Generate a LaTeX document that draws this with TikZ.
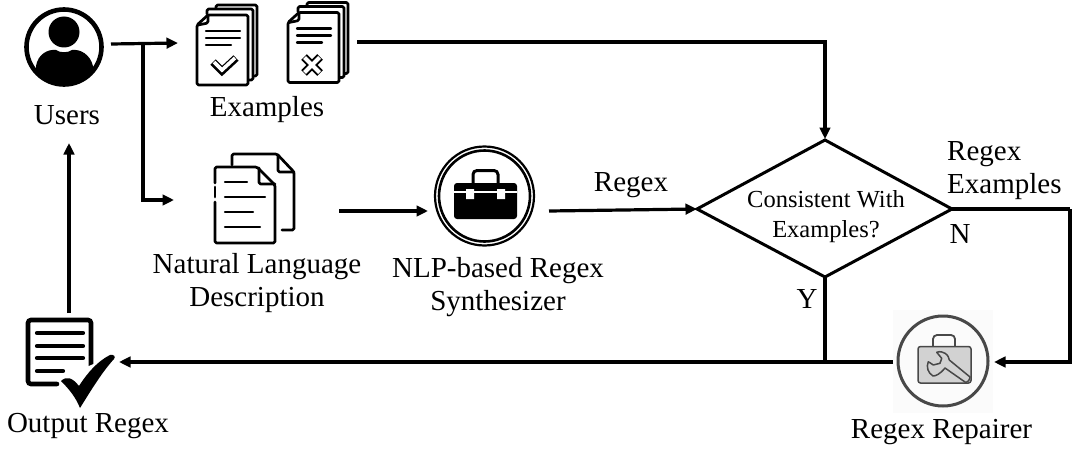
\documentclass[tikz,border=0pt]{standalone}
\usepackage{fontspec}
\setmainfont{Liberation Serif}
\usetikzlibrary{arrows.meta}
\definecolor{repgray}{HTML}{D2D2D2}
\definecolor{repdark}{HTML}{484848}
\tikzset{
  x=1pt,y=-1pt,
  flow/.style={line width=3.2pt,-{Triangle[length=11.5pt,width=10.5pt]},black},
  plainflow/.style={line width=3.2pt,black},
  lbl/.style={font=\fontsize{29}{33}\selectfont,inner sep=0pt,anchor=base},
  smalllbl/.style={font=\fontsize{24.5}{30}\selectfont,inner sep=0pt,anchor=base},
  iconline/.style={line width=2.7pt,line cap=round,line join=round,rounded corners=1.5pt},
  txtline/.style={line width=2.4pt,line cap=round},
}
\newcommand{\stackdoc}{%
  \draw[iconline,fill=white] (216,9) -- (216,5) -- (257,5) -- (257,76) -- (254,76);
  \draw[iconline,fill=white] (207,14) -- (207,9) -- (253,9) -- (253,80) -- (249,80);
  \draw[iconline,fill=white] (197,25) -- (208,15) -- (248,15) -- (248,85) -- (197,85) -- cycle;
  \draw[iconline] (208,15) -- (208,23) -- (198,25);
  \draw[txtline] (206,31) -- (240,31) (206,38) -- (240,38) (206,45) -- (231,45);
}
\begin{document}
\begin{tikzpicture}
\useasboundingbox (0,0) rectangle (1073,452);
% users icon
\draw[line width=4.6pt] (64,47) circle (37.5);
\fill (64,32) circle (15.5);
\begin{scope}
\clip (64,47) circle (37);
\fill (36,88) -- (36,66) .. controls (38,54) and (48,49) .. (56,50) .. controls (60,53) and (68,53) .. (72,50) .. controls (80,49) and (90,54) .. (93,66) -- (93,88) -- cycle;
\end{scope}
\node[lbl] (users) at (67,124) {Users};
% example documents
\stackdoc
\draw[line width=7.5pt,line join=miter] (213,62) -- (222,71) -- (236,58);
\draw[line width=3.6pt,white,line join=miter] (214,62) -- (222,70) -- (235,58);
\begin{scope}[shift={(91,-2.5)}]
\stackdoc
\end{scope}
\draw[line width=8pt] (304,57) -- (320,73) (320,57) -- (304,73);
\draw[line width=4pt,white] (304.5,57.5) -- (319.5,72.5) (319.5,57.5) -- (304.5,72.5);
\node[lbl] (examples) at (267,116) {Examples};
% NL doc
\draw[iconline] (232,165) -- (232,154) -- (277,154) -- (294,172) -- (294,230) -- (282,230);
\draw[iconline] (278,155) -- (278,172) -- (294,172);
\draw[iconline] (215,183) -- (215,167) -- (257,167) -- (275,185) -- (275,243) -- (215,243) -- (215,202);
\draw[iconline] (215,187) -- (215,197);
\draw[iconline] (259,168) -- (259,184) -- (275,184);
\draw[txtline] (225,182) -- (247,182) (225,197) -- (265,197) (225,212) -- (253,212) (225,227) -- (260,227);
\node[lbl] (nl) at (257,273) {Natural Language};
\node[lbl] (nldesc) at (257,306) {Description};
% toolbox
\draw[line width=2.2pt] (484.5,196) circle (49.5);
\draw[line width=2.6pt] (484.5,196) circle (45.5);
\draw[line width=3pt,rounded corners=4pt] (473,184) -- (473,170.5) -- (498,170.5) -- (498,184);
\fill[rounded corners=3pt] (454,183) rectangle (517,219);
\draw[white,line width=1.2pt] (454,192) -- (517,192);
\fill[white] (466,189) rectangle (474,199) (497,189) rectangle (505,199);
\node[lbl] (nlp) at (498,277) {NLP-based Regex};
\node[lbl] (nlpb) at (498,310) {Synthesizer};
% diamond
\draw[line width=3pt,line join=miter] (697,209) -- (825,140) -- (952,209) -- (825,277) -- cycle;
\coordinate (dl) at (697,209);
\coordinate (dr) at (952,209);
\coordinate (db) at (825,277);
\node[smalllbl] (dtext) at (826,207) {Consistent With};
\node[smalllbl] (dtextb) at (826,237) {Examples?};
\node[lbl] (lregex) at (631,191) {Regex};
\node[lbl,anchor=base west] (lr2) at (947,160) {Regex};
\node[lbl,anchor=base west] (lr3) at (947,193) {Examples};
\node[lbl] (ln) at (960,243) {N};
\node[lbl] (ly) at (807,308) {Y};
% output
\draw[line width=4.6pt,line cap=round,rounded corners=3pt] (91,366) -- (91,320) -- (28,320) -- (28,384) -- (57,384);
\draw[line width=4.2pt,line cap=round] (37,333) -- (83,333) (37,346) -- (83,346) (37,358) -- (83,358) (37,371) -- (63,371);
\draw[white,line width=3pt,fill=white] (60,380) -- (80,408) -- (116,356) -- cycle;
\fill[line join=round] (61,381) .. controls (66,376) and (72,377) .. (79,386) .. controls (88,372) and (98,361) .. (110,355) .. controls (114,354) and (116,357) .. (114,359) .. controls (102,372) and (90,392) .. (80,408) .. controls (76,398) and (70,390) .. (61,381) -- cycle;
\node[lbl] (out) at (88,432) {Output Regex};
% repairer
\fill[black!1.5] (893,310) rectangle (993,413);
\draw[repdark,line width=3pt] (943,361) circle (45);
\draw[repdark,line width=1.8pt,rounded corners=4pt] (933,347) -- (933,335) -- (955,335) -- (955,347);
\draw[repdark,fill=repgray,line width=1.5pt,rounded corners=2.5pt] (918,346.5) rectangle (971,383);
\draw[repdark,fill=repgray,line width=1.5pt,line join=round] (965,382) -- (945,368) .. controls (940,374) and (936,376) .. (933,376) .. controls (928,373) and (926,367) .. (928.3,361.7) -- (933.3,365) -- (940,363.3) -- (941.7,358.3) -- (936.7,352.3) .. controls (940,351) and (943,352) .. (945,353.3) .. controls (948,355) and (949,358) .. (949.3,360) -- (970,377) .. controls (970,380) and (967,383) .. (965,382) -- cycle;
\node[lbl] (rep) at (941.5,438) {Regex Repairer};
% connector endpoints
\coordinate (ua) at (111,44);
\coordinate (ub) at (143,44);
\coordinate (ea) at (178,43);
\coordinate (na) at (174,200);
\coordinate (xa) at (357,42);
\coordinate (xb) at (825,42);
\coordinate (dtop) at (825,139);
\coordinate (nb) at (339,211);
\coordinate (nc) at (428,211);
\coordinate (nd) at (549,211);
\coordinate (ra) at (1070,209);
\coordinate (rb) at (1070,362);
\coordinate (rc) at (994,362);
\coordinate (rd) at (893,362);
\coordinate (ym) at (825,362);
\coordinate (oa) at (119,362);
\coordinate (ob) at (69,313);
\coordinate (oc) at (69,143);
\draw[flow] (ua) -- (ea);
\draw[flow] (ub) |- (na);
\draw[flow] (xa) -- (xb) -- (dtop);
\draw[flow] (nb) -- (nc);
\draw[flow] (nd) -- (dl);
\draw[plainflow] (dr) -- (ra);
\draw[flow] (ra) -- (rb) -- (rc);
\draw[plainflow] (db) -- (ym);
\draw[flow] (rd) -- (oa);
\draw[flow] (ob) -- (oc);
\end{tikzpicture}
\end{document}
